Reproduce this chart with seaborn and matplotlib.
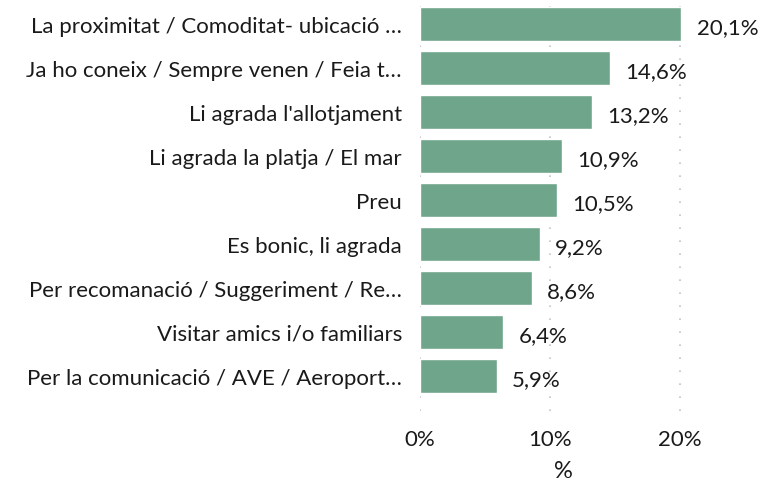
import matplotlib
matplotlib.use("Agg")
import matplotlib.pyplot as plt
import seaborn as sns
import pandas as pd

categories = [
    "La proximitat / Comoditat- ubicació …",
    "Ja ho coneix / Sempre venen / Feia t…",
    "Li agrada l'allotjament",
    "Li agrada la platja / El mar",
    "Preu",
    "Es bonic, li agrada",
    "Per recomanació / Suggeriment / Re…",
    "Visitar amics i/o familiars",
    "Per la comunicació / AVE / Aeroport…",
]
values = [20.1, 14.6, 13.2, 10.9, 10.5, 9.2, 8.6, 6.4, 5.9]
xticks = [0, 10, 20]
xtick_labels = ["0%", "10%", "20%"]

df = pd.DataFrame({"cat": categories, "val": values})

sns.set_theme(style="white")
plt.rcParams["font.family"] = ["Lato", "DejaVu Sans"]

FS = 16
fig = plt.figure(figsize=(7.65, 4.81), dpi=100)
ax = fig.add_axes([0.549, 0.1435, 0.374, 0.8415])

sns.barplot(data=df, x="val", y="cat", color="#6fa58b", saturation=1,
            width=0.77, ax=ax)

ax.set_xlim(0, 22)
ax.set_ylim(8.8, -0.41)
ax.set_xticks(xticks)
ax.set_xticklabels(xtick_labels, fontsize=FS, color="#1a1a1a")
ax.tick_params(axis="y", labelsize=FS, colors="#1a1a1a", pad=13, length=0)
ax.tick_params(axis="x", pad=13, length=0)
ax.grid(axis="x", color="#c4c4c4", linestyle=(0, (1, 6.8)), linewidth=1.2)
ax.set_axisbelow(True)
for s in ax.spines.values():
    s.set_visible(False)
ax.set_ylabel("")
ax.set_xlabel("%", fontsize=FS + 1, color="#1a1a1a", labelpad=8)

for i, v in enumerate(values):
    ax.annotate(f"{v:.1f}%".replace(".", ","), (v, i), xytext=(11, -2),
                textcoords="offset points", va="center", ha="left",
                fontsize=FS, color="#1a1a1a")

fig.savefig("out.png", dpi=100)
